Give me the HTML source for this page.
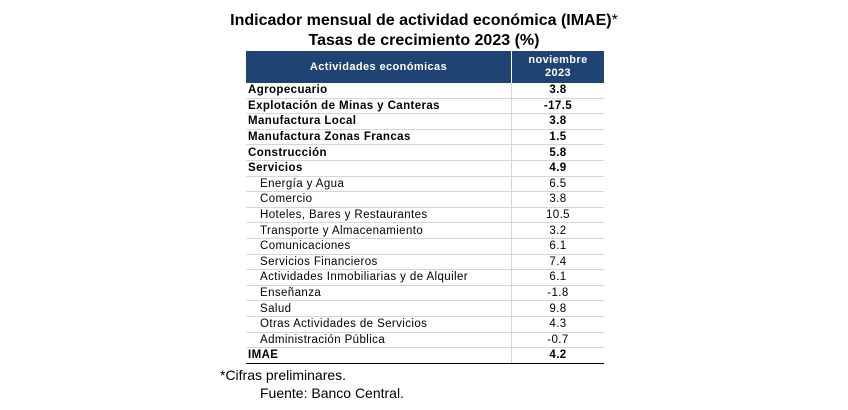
<!DOCTYPE html>
<html><head><meta charset="utf-8"><style>
body{margin:0;width:848px;height:410px;background:#fff;font-family:"Liberation Sans",sans-serif;position:relative;overflow:hidden}
.t{position:absolute;left:0;width:848px;text-align:center;font-weight:bold;font-size:16px;color:#000}
table{position:absolute;left:246px;top:51px;width:358px;border-collapse:collapse;font-size:11.5px;letter-spacing:0.4px}
th{background:#1f4474;color:#fff;font-size:11px;height:32px;padding:0;line-height:13px}
td{height:14.6px;padding:0;border-bottom:1px solid #d6d6d6;line-height:14px}
td:first-child{padding-left:2px;border-right:1px solid #d6d6d6}
td:last-child{text-align:center}
.b td{font-weight:bold}
.s td:first-child{padding-left:14px}
tr.last td{border-bottom:1.5px solid #000}
.f{position:absolute;font-size:14px;color:#000}
</style></head><body>
<div class="t" style="top:12px">Indicador mensual de actividad económica (IMAE)<span style="font-weight:normal">*</span></div>
<div class="t" style="top:32px">Tasas de crecimiento 2023 (%)</div>
<table>
<tr><th style="width:265px;border-right:1px solid #fff">Actividades económicas</th><th>noviembre<br>2023</th></tr>
<tr class="b"><td>Agropecuario</td><td>3.8</td></tr>
<tr class="b"><td>Explotación de Minas y Canteras</td><td>-17.5</td></tr>
<tr class="b"><td>Manufactura Local</td><td>3.8</td></tr>
<tr class="b"><td>Manufactura Zonas Francas</td><td>1.5</td></tr>
<tr class="b"><td>Construcción</td><td>5.8</td></tr>
<tr class="b"><td>Servicios</td><td>4.9</td></tr>
<tr class="s"><td>Energía y Agua</td><td>6.5</td></tr>
<tr class="s"><td>Comercio</td><td>3.8</td></tr>
<tr class="s"><td>Hoteles, Bares y Restaurantes</td><td>10.5</td></tr>
<tr class="s"><td>Transporte y Almacenamiento</td><td>3.2</td></tr>
<tr class="s"><td>Comunicaciones</td><td>6.1</td></tr>
<tr class="s"><td>Servicios Financieros</td><td>7.4</td></tr>
<tr class="s"><td>Actividades Inmobiliarias y de Alquiler</td><td>6.1</td></tr>
<tr class="s"><td>Enseñanza</td><td>-1.8</td></tr>
<tr class="s"><td>Salud</td><td>9.8</td></tr>
<tr class="s"><td>Otras Actividades de Servicios</td><td>4.3</td></tr>
<tr class="s"><td>Administración Pública</td><td>-0.7</td></tr>
<tr class="b last"><td>IMAE</td><td>4.2</td></tr>
</table>
<div class="f" style="left:220px;top:367px">*Cifras preliminares.</div>
<div class="f" style="left:260px;top:385px">Fuente: Banco Central.</div>
</body></html>
